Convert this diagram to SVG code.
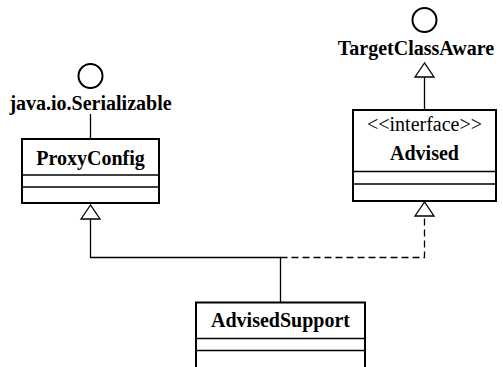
<svg xmlns="http://www.w3.org/2000/svg" width="503" height="367" viewBox="0 0 503 367">
  <style>
    .box { fill: #fff; stroke: #000; stroke-width: 2; }
    .sep { stroke: #000; stroke-width: 1.5; }
    .name { font-family: "Liberation Serif", "Times New Roman", serif; font-size: 20px; font-weight: bold; text-anchor: middle; fill: #000; }
    .stereo { font-family: "Liberation Serif", "Times New Roman", serif; font-size: 20px; text-anchor: middle; fill: #000; }
    .lollipop { fill: #fff; stroke: #000; stroke-width: 2; }
    .link { fill: none; stroke: #000; stroke-width: 1.3; }
    .dashed { stroke-dasharray: 7 4; }
    .head { fill: #fff; stroke: #000; stroke-width: 1.3; }
  </style>
  <rect width="503" height="367" fill="#fff"/>

  <g id="connectors">
    <!-- ProxyConfig implements java.io.Serializable -->
    <line class="link" x1="90.5" y1="114" x2="90.5" y2="139"/>
    <!-- Advised extends TargetClassAware -->
    <line class="link" x1="424.5" y1="77" x2="424.5" y2="110"/>
    <polygon class="head" points="424.5,63 415,77 434,77"/>
    <!-- AdvisedSupport extends ProxyConfig -->
    <polyline class="link" points="280.5,302 280.5,257.5 90.5,257.5 90.5,219"/>
    <polygon class="head" points="90.5,205 81,219 100,219"/>
    <!-- AdvisedSupport implements Advised -->
    <polyline class="link dashed" points="280.5,257.5 424.5,257.5 424.5,216"/>
    <polygon class="head" points="424.5,202 415,216 434,216"/>
  </g>

  <g id="Serializable">
    <circle class="lollipop" cx="90.5" cy="76" r="12"/>
    <text class="name" x="90.5" y="110">java.io.Serializable</text>
  </g>

  <g id="TargetClassAware">
    <circle class="lollipop" cx="424.5" cy="20" r="12"/>
    <text class="name" x="416" y="55">TargetClassAware</text>
  </g>

  <g id="ProxyConfig">
    <rect class="box" x="22" y="139" width="137" height="64"/>
    <line class="sep" x1="22" y1="175" x2="159" y2="175"/>
    <line class="sep" x1="22" y1="187" x2="159" y2="187"/>
    <text class="name" x="90.5" y="165">ProxyConfig</text>
  </g>

  <g id="Advised">
    <rect class="box" x="353" y="110" width="143" height="91"/>
    <line class="sep" x1="353" y1="171.5" x2="496" y2="171.5"/>
    <line class="sep" x1="353" y1="184" x2="496" y2="184"/>
    <text class="stereo" x="424.5" y="131">&lt;&lt;interface&gt;&gt;</text>
    <text class="name" x="424.5" y="160">Advised</text>
  </g>

  <g id="AdvisedSupport">
    <rect class="box" x="196" y="302.5" width="169" height="70"/>
    <line class="sep" x1="196" y1="338.5" x2="365" y2="338.5"/>
    <line class="sep" x1="196" y1="350.5" x2="365" y2="350.5"/>
    <text class="name" x="280.5" y="327">AdvisedSupport</text>
  </g>
</svg>
